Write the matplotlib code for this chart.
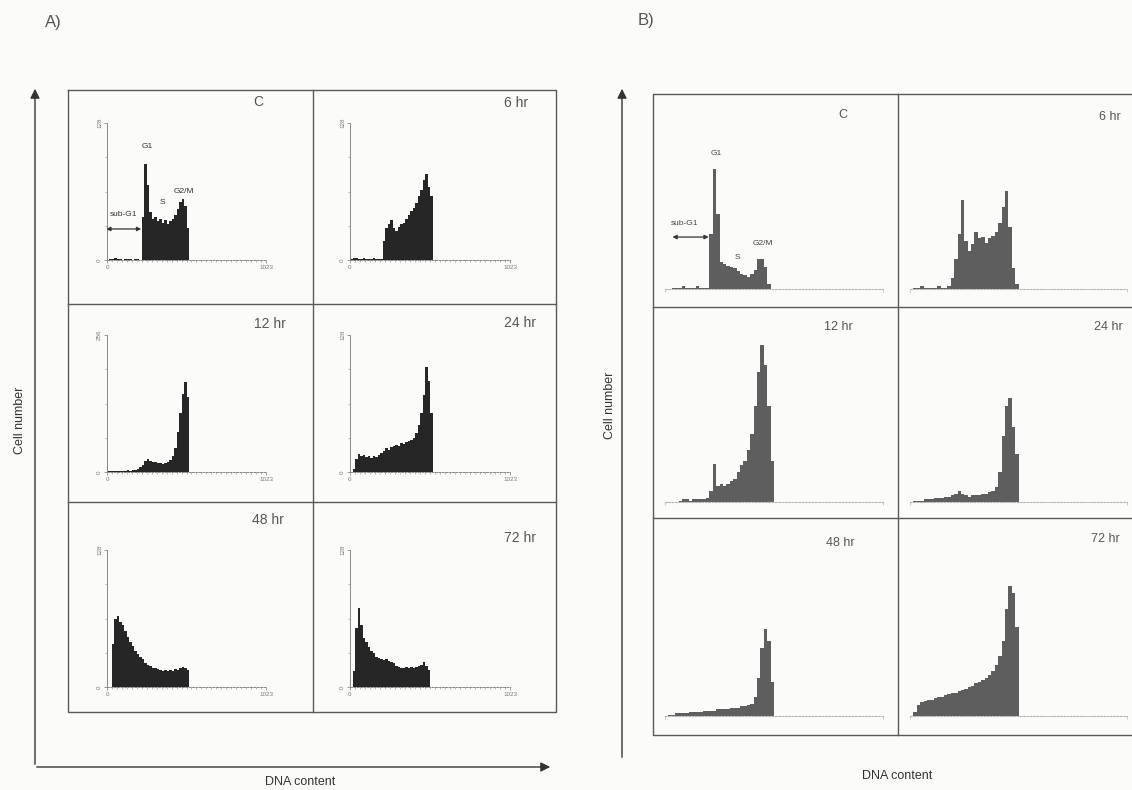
import numpy as np
import matplotlib
matplotlib.use("Agg")
import matplotlib.pyplot as plt
from matplotlib.ticker import MultipleLocator

plt.rcParams["font.family"] = ["Liberation Sans", "DejaVu Sans"]

# histogram counts, 16-channel bins starting at channel 0 (DNA content 0..1023)
bin_width = 16

# panel A (labelled axes)
a_c = [0, 1, 1, 2, 1, 1, 0, 1, 1, 1, 0, 1, 1, 0, 40, 90, 70, 45, 38, 40, 36, 38,
       35, 37, 34, 36, 38, 42, 48, 54, 57, 50, 30]
a_6 = [1, 2, 2, 1, 1, 2, 1, 1, 1, 2, 1, 1, 1, 18, 30, 34, 37, 30, 27, 31, 34, 35,
       38, 42, 46, 49, 53, 60, 65, 75, 80, 68, 60]
a_12 = [1, 2, 1, 2, 2, 1, 2, 2, 3, 2, 3, 4, 6, 9, 13, 20, 25, 21, 19, 18, 17, 16,
        15, 16, 18, 22, 30, 45, 75, 110, 145, 168, 140]
a_24 = [0, 3, 12, 17, 15, 16, 14, 15, 13, 15, 14, 16, 18, 20, 22, 21, 23, 24, 25,
        24, 27, 26, 28, 29, 30, 32, 36, 44, 55, 72, 98, 85, 55]
a_48 = [0, 0, 40, 64, 66, 61, 58, 52, 47, 42, 38, 34, 31, 28, 26, 22, 21, 20, 18,
        18, 17, 16, 15, 16, 15, 16, 15, 17, 16, 18, 19, 18, 16]
a_72 = [0, 15, 55, 74, 58, 46, 42, 37, 34, 32, 28, 27, 26, 25, 26, 24, 23, 22, 20,
        19, 18, 18, 19, 18, 19, 18, 19, 20, 21, 23, 20, 16, 0]
a_data = [a_c, a_6, a_12, a_24, a_48, a_72]
a_ymax = [128, 128, 256, 128, 128, 128]

# panel B (no axis labels)
b_c = [0, 0, 1, 1, 1, 2, 1, 1, 1, 2, 1, 1, 1, 40, 88, 55, 20, 18, 17, 16, 15, 13,
       11, 10, 9, 11, 14, 22, 22, 16, 4, 0, 0]
b_6 = [0, 1, 1, 2, 1, 1, 1, 1, 2, 1, 1, 2, 8, 22, 40, 65, 35, 28, 33, 42, 37, 38,
       34, 37, 39, 42, 48, 60, 72, 45, 15, 4, 0]
b_12 = [0, 0, 0, 0, 1, 2, 2, 1, 2, 2, 2, 2, 3, 8, 28, 12, 13, 12, 13, 15, 17, 22,
        27, 30, 38, 50, 70, 95, 115, 100, 70, 30, 0]
b_24 = [0, 1, 1, 1, 2, 2, 2, 3, 3, 3, 4, 4, 5, 6, 8, 6, 5, 4, 5, 5, 5, 6, 6, 7, 8,
        11, 22, 48, 70, 76, 55, 35, 0]
b_48 = [0, 1, 1, 2, 2, 2, 2, 3, 3, 3, 3, 4, 4, 4, 4, 5, 5, 5, 5, 6, 6, 6, 7, 7, 8,
        9, 14, 28, 50, 64, 55, 25, 0]
b_72 = [0, 3, 8, 10, 11, 12, 12, 13, 14, 14, 15, 16, 17, 17, 18, 19, 20, 21, 22,
        24, 25, 26, 28, 30, 33, 37, 44, 55, 78, 95, 90, 65, 0]
b_data = [b_c, b_6, b_12, b_24, b_48, b_72]
b_ymax = 128

panel_labels = ["C", "6 hr", "12 hr", "24 hr", "48 hr", "72 hr"]

W, H = 1132, 790
fig = plt.figure(figsize=(W / 100, H / 100), dpi=100)
fig.patch.set_facecolor("#fbfbf9")


def px_axes(x0, y_top, x1, y_bot):
    # axes placed with pixel coords (origin top-left)
    return fig.add_axes([x0 / W, 1 - y_bot / H, (x1 - x0) / W, (y_bot - y_top) / H])


# overlay for boxes, arrows and titles
ov = px_axes(0, 0, W, H)
ov.set_xlim(0, W)
ov.set_ylim(H, 0)
ov.axis("off")

box_col = "#5a5a5a"
arr = dict(arrowstyle="-|>", color="#333333", lw=1.0, mutation_scale=14)

# ---- panel A frame ----
ov.plot([68, 556, 556, 68, 68], [90, 90, 712, 712, 90], color=box_col, lw=1)
ov.plot([313, 313], [90, 712], color=box_col, lw=1)
ov.plot([68, 556], [304, 304], color=box_col, lw=1)
ov.plot([68, 556], [502, 502], color=box_col, lw=1)
ov.annotate("", xy=(35, 86), xytext=(35, 767), arrowprops=arr)
ov.annotate("", xy=(553, 767), xytext=(34, 767), arrowprops=arr)
ov.text(45, 22, "A)", fontsize=12, color="#555555", va="center")
ov.text(20, 420, "Cell number", fontsize=9, rotation=90, ha="center", va="center", color="#333333")
ov.text(300, 782, "DNA content", fontsize=9, ha="center", va="center", color="#333333")

# ---- panel B frame ----
ov.plot([1140, 653, 653, 1140], [94, 94, 735, 735], color=box_col, lw=1)
ov.plot([898, 898], [94, 735], color=box_col, lw=1)
ov.plot([653, 1140], [307, 307], color=box_col, lw=1)
ov.plot([653, 1140], [518, 518], color=box_col, lw=1)
ov.annotate("", xy=(622, 86), xytext=(622, 760), arrowprops=arr)
ov.annotate("", xy=(1134, 760), xytext=(621, 760), arrowprops=arr)
ov.text(638, 20, "B)", fontsize=12, color="#555555", va="center")
ov.text(610, 405, "Cell number", fontsize=9, rotation=90, ha="center", va="center", color="#333333")
ov.text(897, 776, "DNA content", fontsize=9, ha="center", va="center", color="#333333")

edges = np.arange(34) * bin_width

# ---- panel A histograms ----
a_cols = [(107, 266), (350, 510)]
a_base = [260, 472, 687]
a_lab = [(258, 102), (516, 103), (270, 324), (520, 323), (268, 520), (520, 538)]
for i, vals in enumerate(a_data):
    r, c = divmod(i, 2)
    x0, x1 = a_cols[c]
    yb = a_base[r]
    ax = px_axes(x0, yb - 137, x1, yb)
    ax.set_facecolor("none")
    ax.stairs(vals, edges[:len(vals) + 1], fill=True, color="#262626", lw=0)
    ax.set_xlim(0, 1023)
    ax.set_ylim(0, a_ymax[i])
    for s in ["top", "right"]:
        ax.spines[s].set_visible(False)
    ax.spines["left"].set_color("#888888")
    ax.spines["left"].set_linewidth(0.7)
    ax.spines["bottom"].set_color("#888888")
    ax.spines["bottom"].set_linewidth(0.7)
    ax.spines["bottom"].set_linestyle((0, (2, 1.5)))
    ax.set_xticks([0, 1023])
    ax.set_yticks([0, a_ymax[i]])
    ax.set_yticklabels(["0", str(a_ymax[i])], rotation=90, va="center")
    ax.yaxis.set_minor_locator(MultipleLocator(a_ymax[i] / 4))
    ax.xaxis.set_minor_locator(MultipleLocator(1023 / 32))
    ax.tick_params(labelsize=4.5, colors="#777777", length=2, width=0.5, pad=1.5)
    ax.tick_params(which="minor", length=1.5, width=0.5, colors="#999999")
    ox, oy = a_lab[i]
    ov.text(ox, oy, panel_labels[i], fontsize=10, color="#555555", ha="center", va="center")
    if i == 0:
        fs = 6
        ax.text(258, 105, "G1", fontsize=fs, ha="center", color="#333333")
        ax.text(355, 52, "S", fontsize=fs, ha="center", color="#333333")
        ax.text(495, 63, "G2/M", fontsize=fs, ha="center", color="#333333")
        ax.text(108, 41, "sub-G1", fontsize=fs, ha="center", color="#333333")
        ax.annotate("", xy=(-5, 29), xytext=(220, 29),
                    arrowprops=dict(arrowstyle="<|-|>", color="#333333", lw=0.9,
                                    mutation_scale=6, shrinkA=0, shrinkB=0),
                    annotation_clip=False)

# ---- panel B histograms ----
b_cols = [(665, 883), (910, 1127)]
b_base = [289, 502, 716]
b_lab = [(843, 115), (1110, 117), (838, 327), (1108, 327), (840, 543), (1105, 539)]
for i, vals in enumerate(b_data):
    r, c = divmod(i, 2)
    x0, x1 = b_cols[c]
    yb = b_base[r]
    ax = px_axes(x0, yb - 175, x1, yb)
    ax.set_facecolor("none")
    ax.stairs(vals, edges[:len(vals) + 1], fill=True, color="#5e5e5e", lw=0)
    ax.set_xlim(0, 1023)
    ax.set_ylim(0, b_ymax)
    for s in ["top", "right", "left"]:
        ax.spines[s].set_visible(False)
    ax.spines["bottom"].set_color("#b5b5b5")
    ax.spines["bottom"].set_linewidth(0.8)
    ax.spines["bottom"].set_linestyle((0, (1.5, 1.5)))
    ax.set_xticks([0, 1023])
    ax.set_xticklabels([])
    ax.set_yticks([])
    ax.tick_params(length=2, width=0.5, colors="#b5b5b5")
    ox, oy = b_lab[i]
    ov.text(ox, oy, panel_labels[i], fontsize=9, color="#555555", ha="center", va="center")
    if i == 0:
        fs = 6
        ax.text(239, 98, "G1", fontsize=fs, ha="center", color="#444444")
        ax.text(339, 22, "S", fontsize=fs, ha="center", color="#444444")
        ax.text(461, 32, "G2/M", fontsize=fs, ha="center", color="#444444")
        ax.text(94, 47, "sub-G1", fontsize=fs, ha="center", color="#444444")
        ax.annotate("", xy=(35, 38), xytext=(205, 38),
                    arrowprops=dict(arrowstyle="<|-|>", color="#333333", lw=0.9,
                                    mutation_scale=6, shrinkA=0, shrinkB=0))

fig.savefig("out.png", dpi=100, facecolor=fig.get_facecolor())
